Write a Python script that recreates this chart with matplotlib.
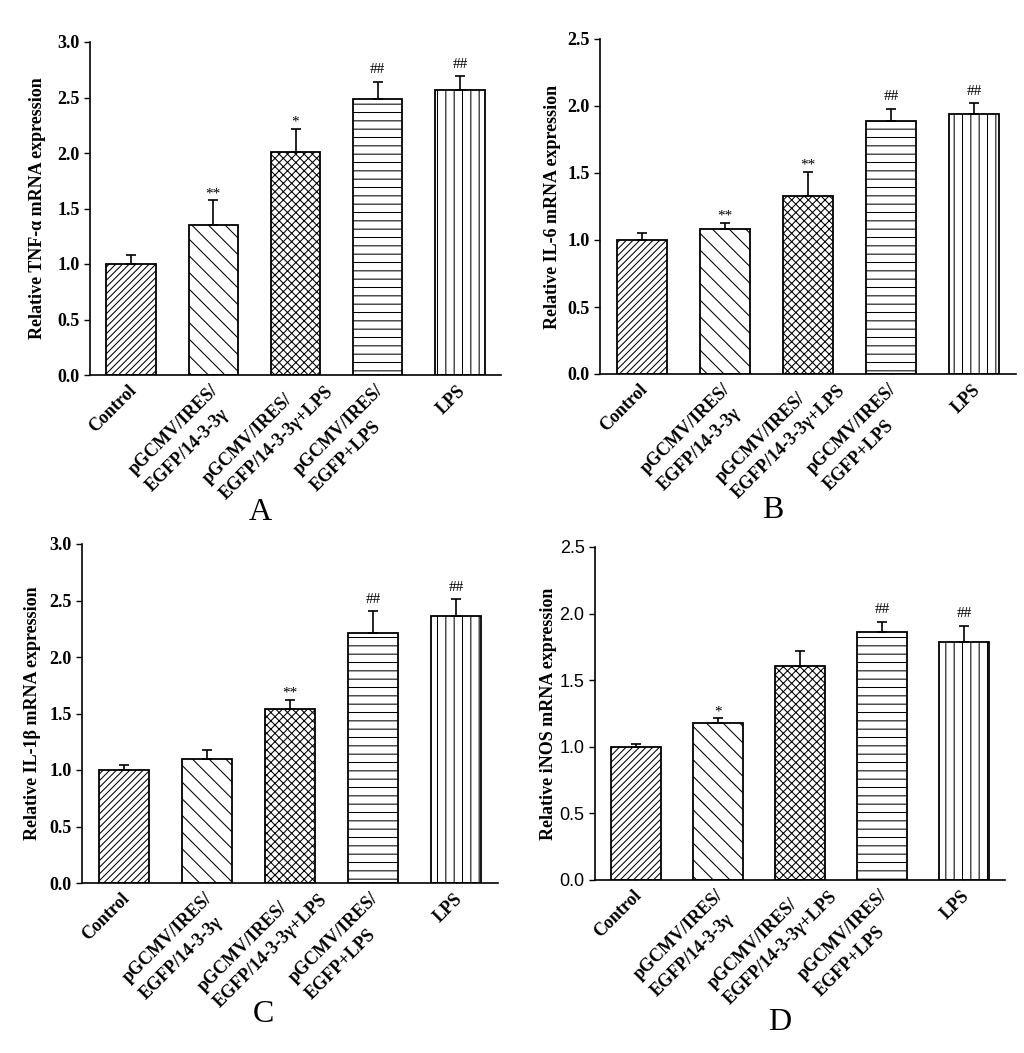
import matplotlib
matplotlib.use('Agg')
import matplotlib.pyplot as plt
import numpy as np
from matplotlib.transforms import blended_transform_factory, ScaledTranslation
from matplotlib.font_manager import FontProperties

# ---------------- data ----------------
categories = ["Control",
              "pGCMV/IRES/\nEGFP/14-3-3γ",
              "pGCMV/IRES/\nEGFP/14-3-3γ+LPS",
              "pGCMV/IRES/\nEGFP+LPS",
              "LPS"]

tnf_mean = [1.00, 1.35, 2.01, 2.49, 2.57]
tnf_err = [0.08, 0.225, 0.21, 0.15, 0.12]
tnf_marks = ["", "**", "*", "##", "##"]

il6_mean = [1.00, 1.085, 1.33, 1.89, 1.94]
il6_err = [0.05, 0.045, 0.18, 0.09, 0.08]
il6_marks = ["", "**", "**", "##", "##"]

il1b_mean = [1.00, 1.10, 1.54, 2.21, 2.36]
il1b_err = [0.04, 0.08, 0.08, 0.195, 0.15]
il1b_marks = ["", "", "**", "##", "##"]

inos_mean = [1.00, 1.18, 1.61, 1.86, 1.79]
inos_err = [0.02, 0.035, 0.11, 0.08, 0.12]
inos_marks = ["", "*", "", "##", "##"]

ylabels = ["Relative TNF-α mRNA expression",
           "Relative IL-6 mRNA expression",
           "Relative IL-1β mRNA expression",
           "Relative iNOS mRNA expression"]
panel_letters = ["A", "B", "C", "D"]
ymax = [3.0, 2.5, 3.0, 2.5]

hatches = ['/////', '\\\\', 'xxxx', '--', '||']

# ---------------- style ----------------
plt.rcParams['hatch.linewidth'] = 0.75
W, H = 1024, 1053
fig = plt.figure(figsize=(W / 100, H / 100), dpi=100)

serif = 'Liberation Serif'
sans = 'Liberation Sans'

# axes boxes in pixels: left, right, top, bottom
boxes = [(90, 501, 42, 375),
         (600, 1016, 39, 374),
         (82, 498, 544, 883),
         (595, 1005, 547, 880)]
ylabel_x = [-0.107, -0.094, -0.099, -0.093]
letter_pos = [(260, 512), (773, 511), (263, 1015), (780, 1022)]

means = [tnf_mean, il6_mean, il1b_mean, inos_mean]
errs = [tnf_err, il6_err, il1b_err, inos_err]
marks = [tnf_marks, il6_marks, il1b_marks, inos_marks]

axes = []
for i in range(4):
    l, r, t, b = boxes[i]
    ax = fig.add_axes([l / W, 1 - b / H, (r - l) / W, (b - t) / H])
    axes.append(ax)
    x = np.arange(len(categories))
    bars = ax.bar(x, means[i], width=0.6, color='white', edgecolor='black',
                  linewidth=1.3, zorder=2)
    for bar, h in zip(bars, hatches):
        bar.set_hatch(h)
    ax.errorbar(x, means[i], yerr=[np.zeros(len(x)), errs[i]], fmt='none',
                ecolor='black', elinewidth=1.2, capsize=3.8, capthick=1.2,
                zorder=3)
    for xi, m, e, s in zip(x, means[i], errs[i], marks[i]):
        if s:
            off = 4 if s.startswith('#') else 0
            ax.annotate(s, (xi, m + e), xytext=(0, off), textcoords='offset points',
                        ha='center', va='bottom', fontsize=11, family=serif)
    ax.set_xlim(-0.5, 4.5)
    ax.set_ylim(0, ymax[i])
    ax.set_yticks(np.arange(0, ymax[i] + 0.01, 0.5))
    ax.set_yticklabels([f"{v:.1f}" for v in np.arange(0, ymax[i] + 0.01, 0.5)])
    ax.set_xticks(x)
    ax.set_xticklabels([])
    for sp in ['top', 'right']:
        ax.spines[sp].set_visible(False)
    for sp in ['left', 'bottom']:
        ax.spines[sp].set_linewidth(1.2)
    ax.tick_params(axis='x', direction='in', length=4, width=1.0)
    ax.tick_params(axis='y', direction='out', length=4, width=1.0)
    if i == 3:
        for tl in ax.get_yticklabels():
            tl.set_fontfamily(sans)
            tl.set_fontsize(13)
    else:
        for tl in ax.get_yticklabels():
            tl.set_fontfamily(serif)
            tl.set_fontweight('bold')
            tl.set_fontsize(13)
    ax.set_ylabel(ylabels[i], fontsize=13, fontweight='bold', family=serif)
    ax.yaxis.set_label_coords(ylabel_x[i], 0.5)
    lx, ly = letter_pos[i]
    fig.text(lx / W, 1 - ly / H, panel_letters[i], ha='center', va='center',
             fontsize=23, family=serif)

# rotated two-line category labels: first line ends near the tick, lines left-aligned
fig.canvas.draw()
renderer = fig.canvas.get_renderer()
prop = FontProperties(family=serif, weight='bold', size=13)
c45 = np.cos(np.radians(45))
for ax in axes:
    base = blended_transform_factory(ax.transData, ax.transAxes)
    for xi, lab in enumerate(categories):
        lines = lab.split('\n')
        widths = [renderer.get_text_width_height_descent(s, prop, ismath=False)[0]
                  for s in lines]
        w1 = widths[0]
        wmax = max(widths)
        w_in = (w1 + 0.35 * (wmax - w1)) / fig.dpi
        dx = -w_in * c45 - 0.03
        dy = -w_in * c45 - 0.07
        tr = base + ScaledTranslation(dx, dy, fig.dpi_scale_trans)
        ax.text(xi, 0, lab, transform=tr, rotation=45, rotation_mode='anchor',
                ha='left', va='top', multialignment='left', linespacing=1.5,
                fontproperties=prop, clip_on=False)

fig.savefig('out.png', dpi=100)
